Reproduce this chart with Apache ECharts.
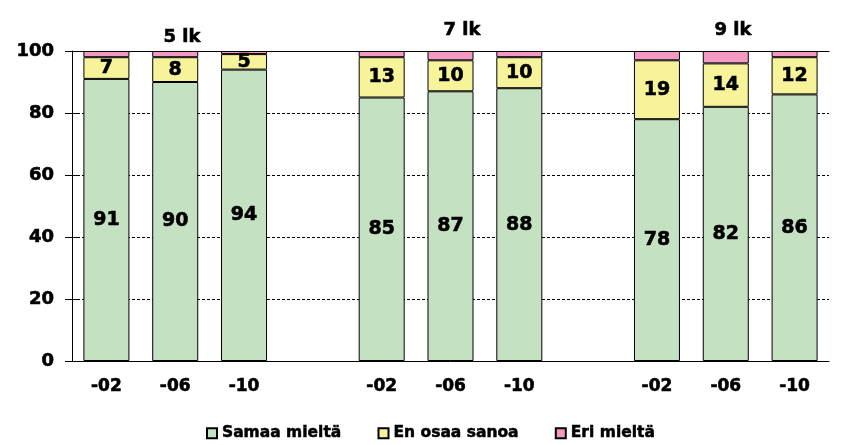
<!DOCTYPE html>
<html>
<head>
<meta charset="utf-8">
<script src="https://cdn.jsdelivr.net/npm/echarts@6/dist/echarts.min.js"></script>
<style>
  html, body { margin: 0; padding: 0; background: #fff; }
  #chart { width: 845px; height: 445px; }
</style>
</head>
<body>
<div id="chart"></div>
<script>
// Survey answers by school grade (5, 7, 9 lk) and year (-02, -06, -10), percent
var categories = ['-02', '-06', '-10', '', '-02', '-06', '-10', '', '-02', '-06', '-10'];
var samaaMielta = [91, 90, 94, '-', 85, 87, 88, '-', 78, 82, 86];
var enOsaaSanoa = [7, 8, 5, '-', 13, 10, 10, '-', 19, 14, 12];
var eriMielta = [2, 2, 1, '-', 2, 3, 2, '-', 3, 4, 2];
var groupTitles = ['5 lk', '7 lk', '9 lk'];
var yTicks = [0, 20, 40, 60, 80, 100];

var FONT = 'DejaVu Sans';
// heavy bold look: bold face plus a hairline outline in the text colour
var heavy = { fontFamily: FONT, fontWeight: 'bold', color: '#000', textBorderColor: '#000', textBorderWidth: 0.6 };

var chart = echarts.init(document.getElementById('chart'));

function barSeries(name, values, color, showLabel) {
  return {
    name: name,
    type: 'bar',
    stack: 'total',
    data: values,
    barWidth: 46,
    itemStyle: { color: color, borderColor: '#000', borderWidth: 1 },
    label: Object.assign({ show: showLabel, position: 'inside', fontSize: 19 }, heavy),
    emphasis: { disabled: true }
  };
}

var titlePos = [[182, 37], [462, 30], [733, 30]];

chart.setOption({
  animation: false,
  backgroundColor: '#fff',
  grid: { left: 72, right: 16, top: 51, bottom: 84, containLabel: false },
  xAxis: [{
    type: 'category',
    data: categories,
    axisLine: { onZero: false, lineStyle: { color: '#000', width: 1 } },
    axisTick: { show: false },
    axisLabel: Object.assign({ fontSize: 17, margin: 17 }, heavy)
  }, {
    // solid frame line along the top of the plot
    type: 'category',
    data: categories,
    position: 'top',
    axisLine: { onZero: false, lineStyle: { color: '#000', width: 1 } },
    axisTick: { show: false },
    axisLabel: { show: false }
  }],
  yAxis: [{
    type: 'value',
    min: yTicks[0],
    max: yTicks[yTicks.length - 1],
    interval: 20,
    axisLine: { show: true, lineStyle: { color: '#000', width: 1 } },
    axisTick: { show: true, inside: false, length: 7, lineStyle: { color: '#000' } },
    axisLabel: Object.assign({ fontSize: 18, margin: 18 }, heavy),
    splitLine: { show: true, lineStyle: { color: '#000', type: [3, 2], width: 1 } }
  }, {
    // inner half of the crossing tick marks
    type: 'value',
    position: 'left',
    min: yTicks[0],
    max: yTicks[yTicks.length - 1],
    interval: 20,
    axisLine: { show: false },
    axisTick: { show: true, inside: true, length: 7, lineStyle: { color: '#000' } },
    axisLabel: { show: false },
    splitLine: { show: false }
  }],
  legend: {
    left: 201,
    top: 420,
    itemWidth: 10,
    itemHeight: 10,
    itemGap: 36,
    icon: 'rect',
    textStyle: { color: '#000', fontFamily: FONT, fontWeight: 'bold', fontSize: 15.5, textBorderColor: '#000', textBorderWidth: 0.5 },
    data: ['Samaa mieltä', 'En osaa sanoa', 'Eri mieltä']
  },
  graphic: groupTitles.map(function (t, i) {
    return {
      type: 'text',
      x: titlePos[i][0],
      y: titlePos[i][1],
      style: {
        text: t,
        fill: '#000',
        stroke: '#000',
        lineWidth: 0.6,
        font: 'bold 18px "' + FONT + '"',
        textAlign: 'center',
        textVerticalAlign: 'middle'
      }
    };
  }),
  series: [
    barSeries('Samaa mieltä', samaaMielta, '#C4E1C1', true),
    barSeries('En osaa sanoa', enOsaaSanoa, '#F6F39B', true),
    barSeries('Eri mieltä', eriMielta, '#F49AC2', false)
  ]
});
</script>
</body>
</html>
